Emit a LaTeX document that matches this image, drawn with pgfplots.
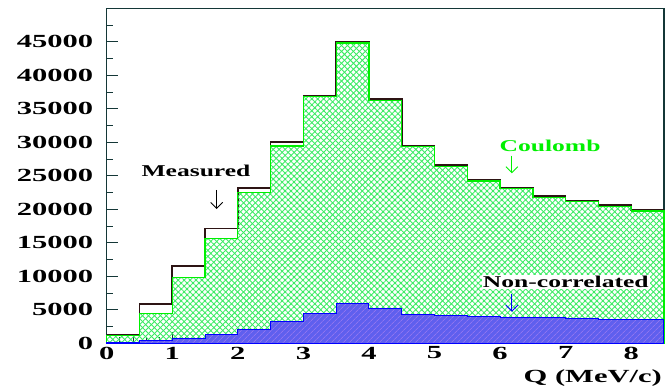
\documentclass[border=0pt]{standalone}
\usepackage{fontspec}
\setmainfont{Liberation Serif}
\newfontfamily\labfont[FakeStretch=1.65]{Liberation Serif}
\newfontfamily\annfont[FakeStretch=1.55]{Liberation Serif}
\usepackage{pgfplots}
\pgfplotsset{compat=1.18}
\usetikzlibrary{patterns.meta,arrows.meta}
\definecolor{meas}{RGB}{45,20,20}
\definecolor{cgreen}{RGB}{0,240,0}
\definecolor{hgreen}{RGB}{60,235,100}
\definecolor{nblue}{RGB}{95,95,238}
\definecolor{frame}{RGB}{20,55,55}
\begin{document}
\begin{tikzpicture}
\useasboundingbox (-106.7pt,-43.7pt) rectangle (558.3pt,343.3pt);
\begin{axis}[
  at={(0,0)}, anchor=south west,
  width=557.3pt, height=335pt, scale only axis,
  xmin=0, xmax=8.5, ymin=0, ymax=50000,
  xtick={0,1,...,8}, minor x tick num=4,
  ytick={0,5000,...,45000}, minor ytick={2500,7500,...,47500},
  tick align=inside, xtick pos=bottom, ytick pos=left,
  major tick length=11pt, minor tick length=6pt,
  tick style={color=frame, line width=0.8pt},
  axis line style={color=frame, line width=1.2pt},
  scaled y ticks=false,
  /pgf/number format/.cd, set thousands separator={}, assume math mode=true,
  /pgfplots/.cd,
  ticklabel style={font={\fontsize{18.5}{20}\labfont\bfseries}},
  yticklabel style={xshift=-10pt},
  clip=false,
]
% Measured
\addplot[const plot, draw=meas, line width=1.6pt] coordinates {
(0,1240) (0.5,5870) (1,11580) (1.5,17160) (2,23220) (2.5,30000) (3,36960) (3.5,45000)
(4,36420) (4.5,29550) (5,26570) (5.5,24370) (6,23280) (6.5,21940) (7,21290) (7.5,20600)
(8,19900) (8.5,19900)};
% Coulomb
\addplot[const plot, draw=cgreen, line width=1.3pt,
  pattern={Lines[angle=45,distance=4.2pt,line width=0.9pt]}, pattern color=hgreen,
  postaction={pattern={Lines[angle=-45,distance=4.2pt,line width=0.9pt]}, pattern color=hgreen}]
coordinates {
(0,1120) (0.5,4480) (1,9850) (1.5,15670) (2,22540) (2.5,29450) (3,36800) (3.5,44800)
(4,36250) (4.5,29400) (5,26420) (5.5,24220) (6,23130) (6.5,21790) (7,21140) (7.5,20450)
(8,19750) (8.5,19750)} \closedcycle;
% Non-correlated
\addplot[const plot, draw=blue, line width=1pt, fill=nblue,
  postaction={pattern={Lines[angle=45,distance=4pt,line width=0.5pt]}, pattern color={rgb,255:red,170;green,130;blue,240}}]
coordinates {
(0,80) (0.5,350) (1,750) (1.5,1340) (2,2130) (2.5,3230) (3,4480) (3.5,5970)
(4,5170) (4.5,4370) (5,4120) (5.5,3970) (6,3880) (6.5,3780) (7,3680) (7.5,3620)
(8,3580) (8.5,3580)} \closedcycle;
% annotations
\node[font={\fontsize{16.5}{18}\annfont\bfseries}, text=black] at (axis cs:1.362,25760) {Measured};
\draw[black, line width=0.9pt, -{Straight Barb[length=6pt,width=12pt]}] (axis cs:1.678,22880) -- (axis cs:1.678,20040);
\node[font={\fontsize{16.5}{18}\annfont\bfseries}, text=cgreen] at (axis cs:6.762,29450) {Coulomb};
\draw[cgreen, line width=0.9pt, -{Straight Barb[length=6pt,width=12pt]}] (axis cs:6.18,28000) -- (axis cs:6.18,25370);
\node[font={\fontsize{16.5}{18}\annfont\bfseries}, text=black, fill=white, inner sep=1pt] at (axis cs:7.003,9190) {Non-correlated};
\draw[blue, line width=0.9pt, -{Straight Barb[length=6pt,width=12pt]}] (axis cs:6.18,7310) -- (axis cs:6.18,4720);
\node[font={\fontsize{18.5}{20}\labfont\bfseries}, anchor=east, inner sep=0pt] at ([xshift=-2pt,yshift=-35pt]rel axis cs:1,0) {Q (MeV/c)};
\end{axis}
\end{tikzpicture}
\end{document}
